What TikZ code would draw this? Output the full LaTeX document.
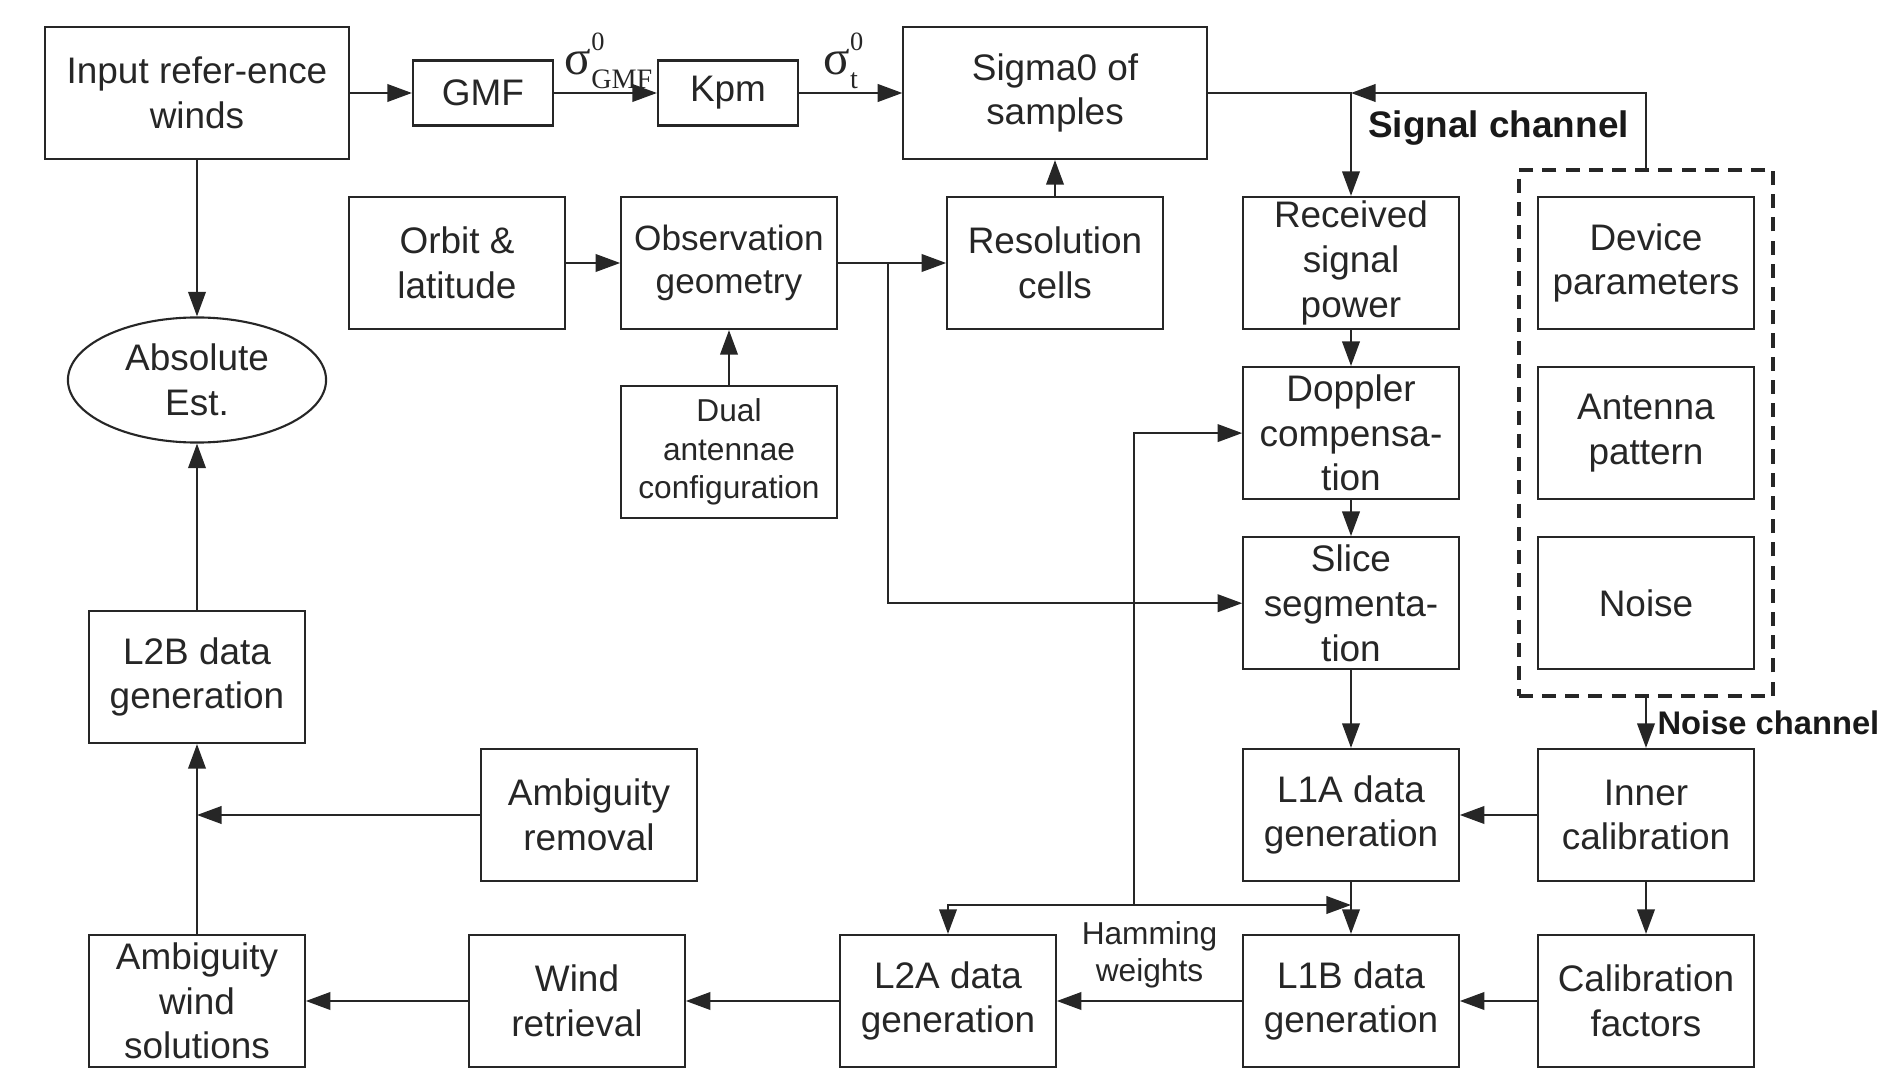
\documentclass[tikz,border=0pt]{standalone}
\usepackage{fontspec}
\setmainfont{Liberation Sans}
\newfontfamily\timesf{Liberation Serif}
\usepackage{tikz}
\usetikzlibrary{shapes.geometric, arrows.meta, positioning, fit}
\tikzstyle{block} = [rectangle, minimum width=2.154cm, minimum
height=1.32cm, align=center, inner sep=1pt, draw=black!85, line width=0.6pt,
text=black!85, font=\fontsize{10.5}{12.7}\selectfont]
\tikzstyle{smallblock} = [block, font=\fontsize{9}{11}\selectfont]
\tikzstyle{topblock} = [block, minimum width=3.03cm]
\tikzstyle{tinyblock} = [block, minimum width=1.40cm, minimum height=0.65cm]
\tikzstyle{estimate} = [ellipse, minimum width=2.58cm, minimum height=1.25cm,
inner sep=0pt, align=center, draw=black!85, line width=0.6pt, text=black!85,
font=\fontsize{10.5}{12.7}\selectfont]
\tikzstyle{group} = [draw=black!85, line width=1.1pt, dash pattern=on 4pt off 2.6pt,
inner xsep=0.185cm, inner ysep=0.26cm]
\tikzstyle{channel} = [font=\bfseries\fontsize{10.5}{12}\selectfont, text=black!90]
\tikzstyle{sigmalabel} = [above, inner sep=1pt, text=black!85, font=\timesf]
\tikzstyle{arrow} =
[line width=0.6pt, draw=black!85, ->, >={Triangle[length=7pt,width=5pt]}]

\begin{document}
\begin{tikzpicture}[x=0.01cm, y=-0.01cm, node distance=1.7cm]
\useasboundingbox (0,0) rectangle (1887,1085);

% top row
\node(input)[topblock] at (197,93) {Input refer-ence\\winds};
\node(gmf)[tinyblock] at (483,93) {GMF};
\node(kpm)[tinyblock] at (728,93) {Kpm};
\node(sigma)[topblock] at (1055,93) {Sigma0 of\\samples};

% geometry
\node(orbit)[block] at (457,263) {Orbit \&\\latitude};
\node(obs)[block, font=\fontsize{10}{12}\selectfont] at (729,263) {Observation\\geometry};
\node(res)[block] at (1055,263) {Resolution\\cells};
\node(dual)[smallblock] at (729,452) {Dual\\antennae\\configuration};

% signal channel
\node(recv)[block] at (1351,263) {Received\\signal\\power};
\node(doppler)[block, below of=recv] {Doppler\\compensa-\\tion};
\node(slice)[block, below of=doppler] {Slice\\segmenta-\\tion};
\node(lonea)[block] at (1351,815) {L1A data\\generation};
\node(loneb)[block] at (1351,1001) {L1B data\\generation};

% device side
\node(device)[block] at (1646,263) {Device\\parameters};
\node(antenna)[block, below of=device] {Antenna\\pattern};
\node(noise)[block, below of=antenna] {Noise};
\node(devgroup)[group, fit=(device)(antenna)(noise)] {};
\node(inner)[block] at (1646,815) {Inner\\calibration};
\node(calib)[block] at (1646,1001) {Calibration\\factors};

% wind side
\node(abs)[estimate] at (197,380) {Absolute\\Est.};
\node(ltwob)[block] at (197,677) {L2B data\\generation};
\node(ambrem)[block] at (589,815) {Ambiguity\\removal};
\node(ambsol)[block] at (197,1001) {Ambiguity\\wind\\solutions};
\node(wind)[block] at (577,1001) {Wind\\retrieval};
\node(ltwoa)[block] at (948,1001) {L2A data\\generation};

\coordinate(obsbranch) at (888,263);
\coordinate(hamjoin) at (1134,905);

\draw[arrow](input) -- (gmf);
\draw[arrow](gmf) -- node[sigmalabel, xshift=0.03cm]
{{\fontsize{14}{14}\selectfont σ}\rlap{\raisebox{6.8pt}{\fontsize{7.5}{7.5}\selectfont 0}}\raisebox{-4pt}{\fontsize{8}{8}\selectfont GMF}} (kpm);
\draw[arrow](kpm) -- node[sigmalabel, xshift=-0.1cm]
{{\fontsize{14}{14}\selectfont σ}\rlap{\raisebox{6.8pt}{\fontsize{7.5}{7.5}\selectfont 0}}\raisebox{-4pt}{\fontsize{8}{8}\selectfont t}} (sigma);
\draw[arrow](input) -- (abs);
\draw[arrow](ltwob) -- (abs);
\draw[arrow](ambsol) -- (ltwob);
\draw[arrow](ambrem) -- (ambrem -| ltwob);

\draw[arrow](orbit) -- (obs);
\draw[arrow](obs) -- (res);
\draw[arrow](dual) -- (obs);
\draw[arrow](res) -- (sigma);
\draw[arrow](obsbranch) |- (slice);

\draw[arrow](sigma.east) -| (recv.north);
\draw[arrow](devgroup.north) |- node[channel, pos=0.75, below, yshift=-0.05cm]{Signal channel} (recv |- sigma);
\draw[arrow](recv) -- (doppler);
\draw[arrow](doppler) -- (slice);
\draw[arrow](slice) -- (lonea);
\draw[arrow](devgroup.south) -- node[channel, right, inner sep=3pt,
font=\bfseries\fontsize{9.3}{11}\selectfont]{Noise channel} (inner);
\draw[arrow](inner) -- (lonea);
\draw[arrow](inner) -- (calib);
\draw[arrow](calib) -- (loneb);
\draw[arrow](lonea) -- (loneb);

\draw[arrow](hamjoin) |- (doppler);
\draw[arrow](hamjoin) -| (ltwoa);
\draw[arrow](hamjoin) -- (hamjoin -| lonea);
\draw[arrow](loneb) -- node[above, align=center, text=black!85,
font=\fontsize{9}{10.6}\selectfont]{Hamming\\weights} (ltwoa);
\draw[arrow](ltwoa) -- (wind);
\draw[arrow](wind) -- (ambsol);

\end{tikzpicture}
\end{document}
